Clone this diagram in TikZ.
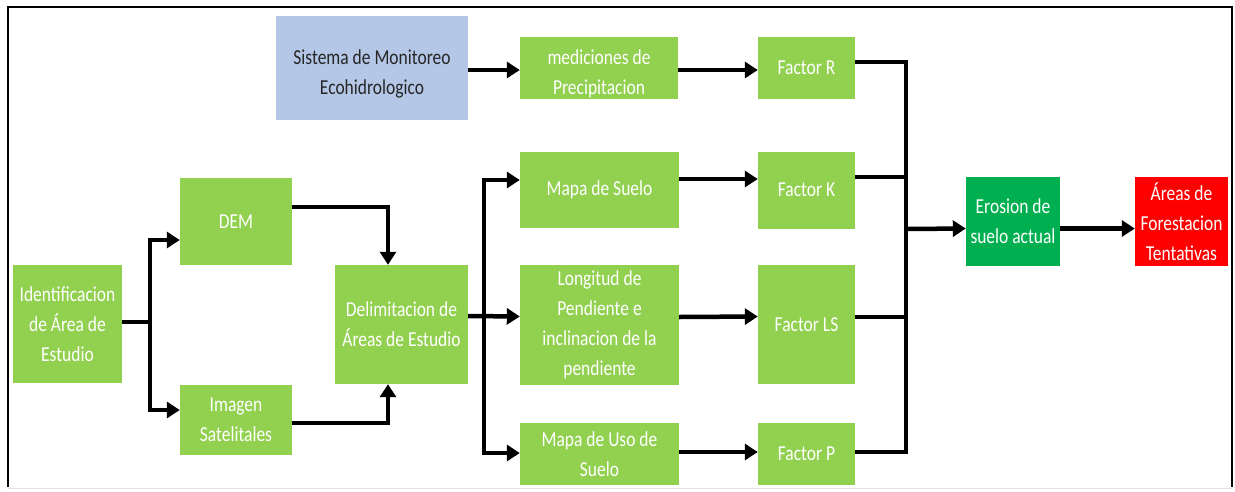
\documentclass[tikz,border=0pt]{standalone}
\usepackage{fontspec}
\setmainfont{Carlito}
\newfontfamily\boxfont[FakeStretch=0.82]{Carlito}
\usetikzlibrary{arrows.meta}
\definecolor{lgreen}{HTML}{92D050}
\definecolor{dgreen}{HTML}{00B050}
\definecolor{lblue}{HTML}{B4C7E7}
\definecolor{dtext}{HTML}{262626}
\tikzset{
  box/.style={fill=lgreen, draw=none, text=white, align=center, inner sep=0pt,
    font=\boxfont\fontsize{21.3}{30}\selectfont},
  conn/.style={line width=4.5pt, line join=miter, black},
  arr/.style={conn, -{Triangle[length=13pt,width=16pt]}},
}
\begin{document}
\begin{tikzpicture}[x=1pt,y=-1pt]
\useasboundingbox (0,0) rectangle (1235,491);
\fill[white] (0,0) rectangle (1235,491);
% frame
\draw[line width=2.5pt] (8,487) -- (8,7) -- (1232,7) -- (1232,487);
\draw[black!12, line width=1.2pt] (8,488.5) -- (1232,488.5);

% nodes
\node[box, fill=lblue, text=dtext, minimum width=192pt, minimum height=104pt] (sis) at (372,68) {\rule{0pt}{26pt}Sistema de Monitoreo\\Ecohidrologico};
\node[box, minimum width=158pt, minimum height=62pt] (med) at (599,68) {\rule{0pt}{26pt}mediciones de\\Precipitacion};
\node[box, minimum width=97pt, minimum height=62pt] (fr) at (806.5,68) {Factor R};
\node[box, minimum width=159pt, minimum height=76pt] (ms) at (599.5,190) {Mapa de Suelo};
\node[box, minimum width=97pt, minimum height=77pt] (fk) at (806.5,190) {Factor K};
\node[box, minimum width=112pt, minimum height=87pt] (dem) at (236,221.5) {DEM};
\node[box, minimum width=109pt, minimum height=118pt] (ide) at (67.5,324) {Identificacion\\de Área de\\Estudio};
\node[box, minimum width=133pt, minimum height=119pt] (del) at (401.5,324.5) {Delimitacion de\\Áreas de Estudio};
\node[box, minimum width=159pt, minimum height=120pt] (lon) at (599.5,325) {Longitud de\\Pendiente e\\inclinacion de la\\pendiente};
\node[box, minimum width=97pt, minimum height=119pt] (fls) at (806.5,324.5) {Factor LS};
\node[box, minimum width=112pt, minimum height=70pt] (img) at (236,420) {Imagen\\Satelitales};
\node[box, minimum width=159pt, minimum height=62pt] (mu) at (599.5,454) {Mapa de Uso de\\Suelo};
\node[box, minimum width=97pt, minimum height=62pt] (fp) at (806.5,454) {Factor P};
\node[box, fill=dgreen, minimum width=94pt, minimum height=89pt] (ero) at (1013,221.5) {Erosion de\\suelo actual};
\node[box, fill=red, minimum width=93pt, minimum height=89pt] (are) at (1181.5,221.5) {Áreas de\\Forestacion\\Tentativas};

% junctions
\coordinate (j1) at (150,322);
\coordinate (j2) at (484,316);
\coordinate (j3) at (906,229);

% connectors
\draw[conn] ([yshift=2pt]ide.east) -- (j1);
\draw[arr] (j1) |- ([yshift=-18.5pt]dem.west);
\draw[arr] (j1) |- ([yshift=10pt]img.west);
\draw[arr] ([yshift=14.5pt]dem.east) -| ([xshift=-13.5pt]del.north);
\draw[arr] ([yshift=-3pt]img.east) -| ([xshift=-13.5pt]del.south);
\draw[arr] ([yshift=8.5pt]del.east) -- ([yshift=8.5pt]lon.west);
\draw[arr] (j2) |- ([yshift=10pt]ms.west);
\draw[arr] (j2) |- ([yshift=1pt]mu.west);
\draw[arr] ([yshift=-2pt]sis.east) -- ([yshift=-2pt]med.west);
\draw[arr] ([yshift=-2pt]med.east) -- ([yshift=-2pt]fr.west);
\draw[arr] ([yshift=11pt]ms.east) -- ([yshift=11pt]fk.west);
\draw[arr] ([yshift=8pt]lon.east) -- ([yshift=8pt]fls.west);
\draw[arr] ([yshift=2pt]mu.east) -- ([yshift=2pt]fp.west);
\draw[conn] ([yshift=6pt]fr.east) -| (j3);
\draw[conn] ([yshift=13pt]fk.east) -| (j3);
\draw[conn] ([yshift=7.5pt]fls.east) -| (j3);
\draw[conn] ([yshift=2pt]fp.east) -| (j3);
\draw[arr] (j3) -- ([yshift=-7pt]ero.west);
\draw[arr] ([yshift=-7pt]ero.east) -- ([yshift=-7pt]are.west);
\end{tikzpicture}
\end{document}
